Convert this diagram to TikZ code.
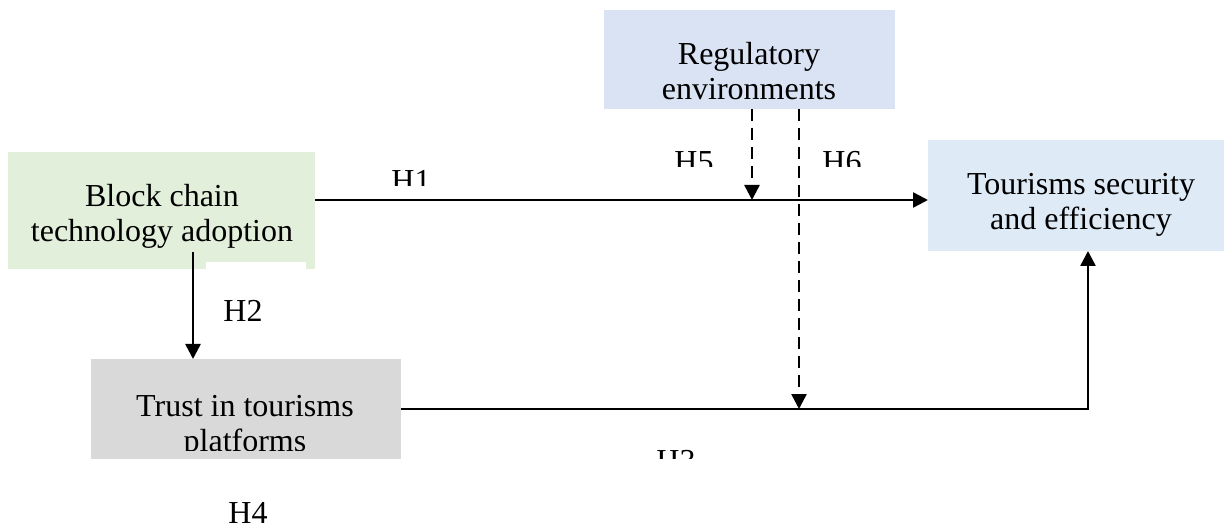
\documentclass[tikz,border=0pt]{standalone}
\usepackage{fontspec}
\setmainfont{Liberation Serif}
\usetikzlibrary{arrows.meta}
\definecolor{bcgreen}{HTML}{E2EFDA}
\definecolor{regblue}{HTML}{DAE3F3}
\definecolor{tsblue}{HTML}{DEEBF7}
\definecolor{trgray}{HTML}{D9D9D9}
\tikzset{
  boxshape/.style={rectangle, draw=none, inner sep=0pt, outer sep=0pt},
  lbl/.style={font=\fontsize{32}{35}\selectfont, inner sep=0pt, anchor=base},
  conn/.style={line width=2.5pt, -{Triangle[width=15pt,length=15pt]}},
  modconn/.style={conn, dash pattern=on 12pt off 7pt},
  plainline/.style={line width=2.5pt}
}
\begin{document}
\begin{tikzpicture}[x=1pt,y=-1pt]
\useasboundingbox (0,0) rectangle (1224,529);
% boxes
\node[boxshape, fill=regblue, minimum width=291pt, minimum height=99pt] (reg) at (749.5,59.5) {};
\node[boxshape, fill=bcgreen, minimum width=307pt, minimum height=117pt] (bc) at (161.5,210.5) {};
\fill[white] (206,262) rectangle (306,271);
\node[boxshape, fill=tsblue, minimum width=296pt, minimum height=111pt] (ts) at (1076,195.5) {};
\node[boxshape, fill=trgray, minimum width=310pt, minimum height=100pt] (tr) at (246,409) {};
% box texts
\node[lbl] (reg1) at (749,65) {Regulatory};
\begin{scope}
  \clip (600,70) rectangle (900,100.5);
  \node[lbl] (reg2) at (749,100) {environments};
\end{scope}
\node[lbl] (bc1) at (162,207) {Block chain};
\node[lbl] (bc2) at (162,242) {technology adoption};
\node[lbl] (ts1) at (1081,195) {Tourisms security};
\node[lbl] (ts2) at (1081,230) {and efficiency};
\node[lbl] (tr1) at (245,416) {Trust in tourisms};
\begin{scope}
  \clip (90,420) rectangle (400,450);
  \node[lbl] (tr2) at (245,451) {platforms};
\end{scope}
% hypothesis labels
\begin{scope}
  \clip (380,160) rectangle (440,186);
  \node[lbl] (lh1) at (411,192) {H1};
\end{scope}
\node[lbl] (lh2) at (243,322) {H2};
\begin{scope}
  \clip (640,440) rectangle (720,458);
  \node[lbl] (lh3) at (676,471) {H3};
\end{scope}
\node[lbl] (lh4) at (248,523) {H4};
\begin{scope}
  \clip (660,140) rectangle (880,167);
  \node[lbl] (lh5) at (694,173) {H5};
  \node[lbl] (lh6) at (842,173) {H6};
\end{scope}
% connector coordinates
\coordinate (h1y) at (0,200);
\coordinate (h2) at (193,252);
\coordinate (h3c) at (1088,409);
\coordinate (h5) at (752,0);
\coordinate (h6) at (799,0);
% connectors
\draw[conn] (bc.east |- h1y) -- (ts.west |- h1y);
\draw[conn] (h2) -- (tr.north -| h2);
\draw[conn] (tr.east |- h3c) -- (h3c) -- (ts.south -| h3c);
\draw[modconn] (reg.south -| h5) -- (h5 |- h1y);
\draw[modconn] (reg.south -| h6) -- (h6 |- h3c);
\end{tikzpicture}
\end{document}
